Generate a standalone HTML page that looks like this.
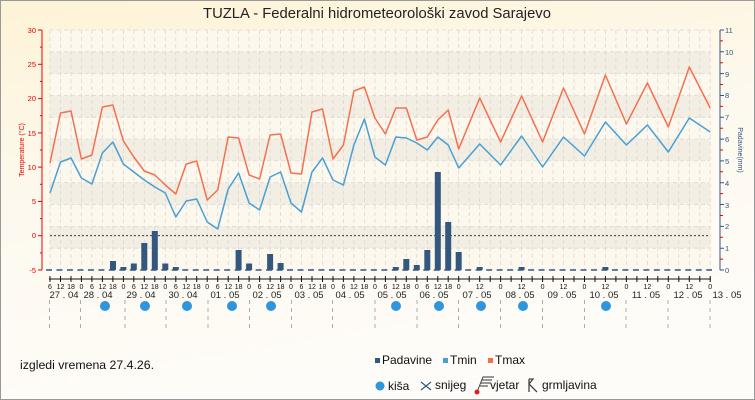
<!DOCTYPE html>
<html><head><meta charset="utf-8"><style>
html,body{margin:0;padding:0;width:755px;height:400px;overflow:hidden}
svg{display:block;font-family:"Liberation Sans","DejaVu Sans",sans-serif}
</style></head><body>
<svg width="755" height="400" viewBox="0 0 755 400" xmlns="http://www.w3.org/2000/svg">
<defs>
<linearGradient id="bg" x1="0" y1="0" x2="0.3" y2="1">
<stop offset="0" stop-color="#fdf3d6"/><stop offset="0.5" stop-color="#fdf9ef"/><stop offset="1" stop-color="#fefcf8"/>
</linearGradient>
</defs>
<rect x="0.5" y="0.5" width="754" height="399" fill="url(#bg)" stroke="#999"/>
<text x="377" y="18" text-anchor="middle" font-size="14.8" fill="#222">TUZLA - Federalni hidrometeorološki zavod Sarajevo</text>
<rect x="50" y="30" width="660" height="240" fill="#fcf8ee"/>
<g fill="#f2eee4">
<rect x="50" y="51.8" width="660" height="21.8"/>
<rect x="50" y="95.5" width="660" height="21.8"/>
<rect x="50" y="139.1" width="660" height="21.8"/>
<rect x="50" y="182.7" width="660" height="21.8"/>
<rect x="50" y="226.4" width="660" height="21.8"/>
</g>
<g stroke="#dcd8d0" stroke-width="0.8" stroke-dasharray="4,3">
<line x1="50" x2="710" y1="30" y2="30"/><line x1="50" x2="710" y1="51.8" y2="51.8"/><line x1="50" x2="710" y1="73.6" y2="73.6"/><line x1="50" x2="710" y1="95.5" y2="95.5"/><line x1="50" x2="710" y1="117.3" y2="117.3"/><line x1="50" x2="710" y1="139.1" y2="139.1"/><line x1="50" x2="710" y1="160.9" y2="160.9"/><line x1="50" x2="710" y1="182.7" y2="182.7"/><line x1="50" x2="710" y1="204.5" y2="204.5"/><line x1="50" x2="710" y1="226.4" y2="226.4"/><line x1="50" x2="710" y1="248.2" y2="248.2"/>
</g>
<g stroke="#dcd8d0" stroke-width="0.8" stroke-dasharray="4,3">
<path d="M50 30V270M60.5 30V270M71 30V270M81.4 30V270M91.9 30V270M102.4 30V270M112.9 30V270M123.4 30V270M133.8 30V270M144.3 30V270M154.8 30V270M165.3 30V270M175.8 30V270M186.2 30V270M196.7 30V270M207.2 30V270M217.7 30V270M228.2 30V270M238.6 30V270M249.1 30V270M259.6 30V270M270.1 30V270M280.6 30V270M291 30V270M301.5 30V270M312 30V270M322.5 30V270M333 30V270M343.4 30V270M353.9 30V270M364.4 30V270M374.9 30V270M385.4 30V270M395.8 30V270M406.3 30V270M416.8 30V270M427.3 30V270M437.8 30V270M448.2 30V270M458.7 30V270M469.2 30V270M479.7 30V270M490.2 30V270M500.6 30V270M511.1 30V270M521.6 30V270M532.1 30V270M542.6 30V270M553 30V270M563.5 30V270M574 30V270M584.5 30V270M595 30V270M605.4 30V270M615.9 30V270M626.4 30V270M636.9 30V270M647.4 30V270M657.8 30V270M668.3 30V270M678.8 30V270M689.3 30V270M699.8 30V270M710.2 30V270"/>
</g>
<line x1="50" x2="710" y1="235.7" y2="235.7" stroke="#222" stroke-width="0.9" stroke-dasharray="2,2"/>
<line x1="46" x2="712" y1="270" y2="270" stroke="#34577e" stroke-width="1.5" stroke-dasharray="6,4.48"/>
<g fill="#34577e">
<rect x="110" y="261" width="6" height="9"/>
<rect x="120.4" y="267" width="6" height="3"/>
<rect x="130.8" y="263.5" width="6" height="6.5"/>
<rect x="141.3" y="243" width="6" height="27"/>
<rect x="151.8" y="231" width="6" height="39"/>
<rect x="162.3" y="263.5" width="6" height="6.5"/>
<rect x="172.8" y="267" width="6" height="3"/>
<rect x="235.6" y="250" width="6" height="20"/>
<rect x="246.1" y="263.5" width="6" height="6.5"/>
<rect x="267.1" y="254" width="6" height="16"/>
<rect x="277.6" y="263" width="6" height="7"/>
<rect x="392.8" y="267" width="6" height="3"/>
<rect x="403.3" y="259" width="6" height="11"/>
<rect x="413.8" y="265" width="6" height="5"/>
<rect x="424.3" y="250" width="6" height="20"/>
<rect x="434.8" y="172" width="6" height="98"/>
<rect x="445.2" y="222" width="6" height="48"/>
<rect x="455.7" y="252" width="6" height="18"/>
<rect x="476.7" y="267" width="6" height="3"/>
<rect x="518.6" y="267" width="6" height="3"/>
<rect x="602.4" y="267" width="6" height="3"/>
</g>
<polyline fill="none" stroke="#f4704f" stroke-width="1.5" stroke-linejoin="round" points="50,163 60.5,113 71,111 81.4,159 91.9,155 102.4,107 112.9,105 123.4,141 133.8,157 144.3,171 154.8,175 165.3,185 175.8,194 186.2,164 196.7,161 207.2,200 217.7,190 228.2,137 238.6,138 249.1,175 259.6,179 270.1,135 280.6,134 291,173 301.5,174 312,112 322.5,109 333,159 343.4,145 353.9,91 364.4,87 374.9,118 385.4,134 395.8,108 406.3,108 416.8,140 427.3,137 437.8,120 448.2,110 458.7,149 479.7,98 500.6,142 521.6,96 542.6,142 563.5,88 584.5,134 605.4,75 626.4,124 647.4,83 668.3,127 689.3,67 710.2,108"/>
<polyline fill="none" stroke="#4a9fd4" stroke-width="1.5" stroke-linejoin="round" points="50,193 60.5,162 71,158 81.4,178 91.9,184 102.4,153 112.9,142 123.4,164 133.8,172 144.3,180 154.8,187 165.3,193 175.8,217 186.2,201 196.7,199 207.2,222 217.7,229 228.2,189 238.6,173 249.1,203 259.6,210 270.1,177 280.6,172 291,203 301.5,212 312,172 322.5,158 333,180 343.4,185 353.9,145 364.4,119 374.9,157 385.4,165 395.8,137 406.3,138 416.8,143 427.3,150 437.8,137 448.2,145 458.7,168 479.7,144 500.6,165 521.6,136 542.6,167 563.5,137 584.5,156 605.4,122 626.4,145 647.4,125 668.3,152 689.3,118 710.2,132"/>
<g stroke="#e00" stroke-width="1">
<line x1="42" x2="42" y1="30" y2="270"/>
<line x1="38" x2="42" y1="30" y2="30"/><line x1="38" x2="42" y1="64.3" y2="64.3"/><line x1="38" x2="42" y1="98.6" y2="98.6"/><line x1="38" x2="42" y1="132.9" y2="132.9"/><line x1="38" x2="42" y1="167.1" y2="167.1"/><line x1="38" x2="42" y1="201.4" y2="201.4"/><line x1="38" x2="42" y1="235.7" y2="235.7"/><line x1="38" x2="42" y1="270" y2="270"/>
<line x1="40" x2="42" y1="47.1" y2="47.1"/><line x1="40" x2="42" y1="81.4" y2="81.4"/><line x1="40" x2="42" y1="115.7" y2="115.7"/><line x1="40" x2="42" y1="150" y2="150"/><line x1="40" x2="42" y1="184.3" y2="184.3"/><line x1="40" x2="42" y1="218.6" y2="218.6"/><line x1="40" x2="42" y1="252.9" y2="252.9"/>
</g>
<g font-size="7.5" fill="#e00" text-anchor="end">
<text x="36" y="33">30</text><text x="36" y="67">25</text><text x="36" y="101">20</text><text x="36" y="136">15</text><text x="36" y="170">10</text><text x="36" y="204">5</text><text x="36" y="238">0</text><text x="36" y="273">-5</text>
</g>
<text transform="translate(24,150) rotate(-90)" text-anchor="middle" font-size="7" fill="#e00">Temperature (°C)</text>
<g stroke="#34577e" stroke-width="1">
<line x1="720" x2="720" y1="30" y2="270"/>
<path d="M720 30H724M720 51.8H724M720 73.6H724M720 95.5H724M720 117.3H724M720 139.1H724M720 160.9H724M720 182.7H724M720 204.5H724M720 226.4H724M720 248.2H724M720 270H724"/>
</g>
<g stroke="#e00" stroke-width="1">
<path d="M720 40.9H723M720 62.7H723M720 84.5H723M720 106.4H723M720 128.2H723M720 150H723M720 171.8H723M720 193.6H723M720 215.5H723M720 237.3H723M720 259.1H723"/>
</g>
<g font-size="7.5" fill="#34577e">
<text x="725" y="33">11</text><text x="725" y="55">10</text><text x="725" y="77">9</text><text x="725" y="98">8</text><text x="725" y="120">7</text><text x="725" y="142">6</text><text x="725" y="164">5</text><text x="725" y="186">4</text><text x="725" y="208">3</text><text x="725" y="229">2</text><text x="725" y="251">1</text><text x="725" y="273">0</text>
</g>
<text transform="translate(738,150) rotate(90)" text-anchor="middle" font-size="7" fill="#34577e">Padavine(mm)</text>
<line x1="49" x2="711" y1="279" y2="279" stroke="#111" stroke-width="1"/>
<g stroke="#111" stroke-width="1">
<path d="M50 276V282M60.5 276V282M71 276V282M81.4 276V282M91.9 276V282M102.4 276V282M112.9 276V282M123.4 276V282M133.8 276V282M144.3 276V282M154.8 276V282M165.3 276V282M175.8 276V282M186.2 276V282M196.7 276V282M207.2 276V282M217.7 276V282M228.2 276V282M238.6 276V282M249.1 276V282M259.6 276V282M270.1 276V282M280.6 276V282M291 276V282M301.5 276V282M312 276V282M322.5 276V282M333 276V282M343.4 276V282M353.9 276V282M364.4 276V282M374.9 276V282M385.4 276V282M395.8 276V282M406.3 276V282M416.8 276V282M427.3 276V282M437.8 276V282M448.2 276V282M458.7 276V282M469.2 276V282M479.7 276V282M490.2 276V282M500.6 276V282M511.1 276V282M521.6 276V282M532.1 276V282M542.6 276V282M553 276V282M563.5 276V282M574 276V282M584.5 276V282M595 276V282M605.4 276V282M615.9 276V282M626.4 276V282M636.9 276V282M647.4 276V282M657.8 276V282M668.3 276V282M678.8 276V282M689.3 276V282M699.8 276V282M710.2 276V282"/>
</g>
<g font-size="7" fill="#111" text-anchor="middle">
<text x="50" y="289">6</text><text x="60.5" y="289">12</text><text x="71" y="289">18</text><text x="81.4" y="289">0</text>
<text x="91.9" y="289">6</text><text x="102.4" y="289">12</text><text x="112.9" y="289">18</text><text x="123.4" y="289">0</text>
<text x="133.8" y="289">6</text><text x="144.3" y="289">12</text><text x="154.8" y="289">18</text><text x="165.3" y="289">0</text>
<text x="175.8" y="289">6</text><text x="186.2" y="289">12</text><text x="196.7" y="289">18</text><text x="207.2" y="289">0</text>
<text x="217.7" y="289">6</text><text x="228.2" y="289">12</text><text x="238.6" y="289">18</text><text x="249.1" y="289">0</text>
<text x="259.6" y="289">6</text><text x="270.1" y="289">12</text><text x="280.6" y="289">18</text><text x="291" y="289">0</text>
<text x="301.5" y="289">6</text><text x="312" y="289">12</text><text x="322.5" y="289">18</text><text x="333" y="289">0</text>
<text x="343.4" y="289">6</text><text x="353.9" y="289">12</text><text x="364.4" y="289">18</text><text x="374.9" y="289">0</text>
<text x="385.4" y="289">6</text><text x="395.8" y="289">12</text><text x="406.3" y="289">18</text><text x="416.8" y="289">0</text>
<text x="427.3" y="289">6</text><text x="437.8" y="289">12</text><text x="448.2" y="289">18</text><text x="458.7" y="289">0</text>
<text x="479.7" y="289">12</text><text x="500.6" y="289">0</text><text x="521.6" y="289">12</text><text x="542.6" y="289">0</text>
<text x="563.5" y="289">12</text><text x="584.5" y="289">0</text><text x="605.4" y="289">12</text><text x="626.4" y="289">0</text>
<text x="647.4" y="289">12</text><text x="668.3" y="289">0</text><text x="689.3" y="289">12</text><text x="710.2" y="289">0</text>
</g>
<g font-size="9.5" fill="#222" text-anchor="middle">
<text x="64" y="298">27 . 04</text><text x="98" y="298">28 . 04</text><text x="141" y="298">29 . 04</text><text x="183" y="298">30 . 04</text>
<text x="225" y="298">01 . 05</text><text x="267" y="298">02 . 05</text><text x="309" y="298">03 . 05</text><text x="350" y="298">04 . 05</text>
<text x="392" y="298">05 . 05</text><text x="434" y="298">06 . 05</text><text x="477" y="298">07 . 05</text><text x="520" y="298">08 . 05</text>
<text x="562" y="298">09 . 05</text><text x="604" y="298">10 . 05</text><text x="646" y="298">11 . 05</text><text x="688" y="298">12 . 05</text>
<text x="727" y="298">13 . 05</text>
</g>
<g stroke="#999" stroke-width="0.8" stroke-dasharray="4,4">
<path d="M49.5 300V332M80.5 300V332M125 300V332M166 300V332M208 300V332M249.5 300V332M291.5 300V332M332.5 300V332M375 300V332M417 300V332M458.5 300V332M500.5 300V332M542.5 300V332M584.5 300V332M626 300V332M668 300V332M710 300V332"/>
</g>
<g fill="#2f95dc">
<circle cx="105" cy="306" r="5"/><circle cx="145" cy="306" r="5"/><circle cx="187" cy="306" r="5"/><circle cx="232" cy="306" r="5"/><circle cx="271" cy="306" r="5"/>
<circle cx="396" cy="306" r="5"/><circle cx="439" cy="306" r="5"/><circle cx="481" cy="306" r="5"/><circle cx="523" cy="306" r="5"/><circle cx="606" cy="306" r="5"/>
</g>
<text x="20" y="369" font-size="12.3" fill="#111">izgledi vremena 27.4.26.</text>
<rect x="375" y="358" width="5" height="5" fill="#34577e"/>
<text x="382" y="364" font-size="12" fill="#111">Padavine</text>
<rect x="443" y="358" width="5" height="5" fill="#4a9fd4"/>
<text x="450" y="364" font-size="12" fill="#111">Tmin</text>
<rect x="488" y="358" width="5" height="5" fill="#f4704f"/>
<text x="495" y="364" font-size="12" fill="#111">Tmax</text>
<circle cx="380" cy="386" r="4.5" fill="#2f95dc"/>
<text x="388" y="390" font-size="12" fill="#111">kiša</text>
<path d="M421 382L431 390M431 382L421 390" stroke="#34577e" stroke-width="1.2"/>
<text x="435" y="389" font-size="12" fill="#111">snijeg</text>
<path d="M477 392L483 377L494 377M482 380L492 380M481 383L490 383M480 386L488 386" stroke="#333" stroke-width="0.9" fill="none"/>
<circle cx="477" cy="392" r="2.5" fill="#e02020"/>
<text x="490" y="389" font-size="12" fill="#111">vjetar</text>
<path d="M529 379V392M529 379H533L529 384L537 392" stroke="#444" stroke-width="1.3" fill="none"/>
<text x="542" y="389" font-size="12" fill="#111">grmljavina</text>
</svg>
</body></html>
